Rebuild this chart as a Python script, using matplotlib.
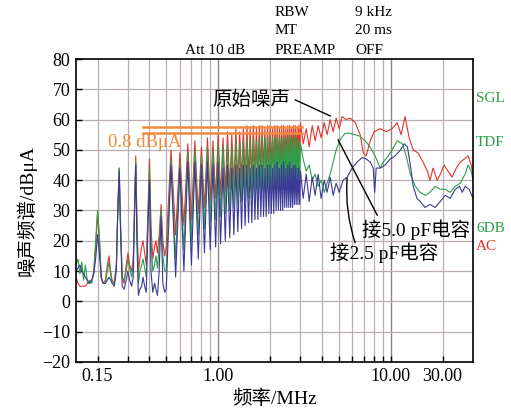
import matplotlib
matplotlib.use('Agg')
import matplotlib.pyplot as plt
from matplotlib.ticker import FixedLocator, NullFormatter

FONT = ['Liberation Serif', 'Noto Sans CJK SC']
plt.rcParams['font.family'] = FONT

# ---- data ----
# low-frequency part, 0.15 - 0.49 MHz
f_low = [0.150, 0.154, 0.158, 0.162, 0.166, 0.170, 0.175, 0.180, 0.185, 0.190,
         0.195, 0.200, 0.205, 0.210, 0.215, 0.222, 0.228, 0.233, 0.238, 0.243,
         0.250, 0.257, 0.262, 0.267, 0.272, 0.278, 0.285, 0.293, 0.300, 0.307,
         0.315, 0.322, 0.328, 0.333, 0.338, 0.345, 0.352, 0.360, 0.367, 0.375,
         0.383, 0.392, 0.400, 0.408, 0.418, 0.428, 0.436, 0.445, 0.455, 0.467,
         0.478, 0.490]
red_low = [8, 6, 5, 5, 5, 5, 6, 6, 7, 9,
           18, 29, 20, 8, 6, 7, 12, 15, 10, 7,
           6, 12, 30, 44, 25, 8, 6, 12, 16, 12,
           10, 14, 32, 48, 28, 10, 14, 18, 20, 16,
           12, 30, 47, 25, 14, 18, 20, 16, 22, 32,
           20, 15]
green_low = [12, 14, 9, 13, 7, 12, 6, 7, 6, 10,
             20, 30, 22, 8, 6, 6, 10, 13, 9, 6,
             6, 12, 30, 44, 25, 8, 7, 10, 14, 11,
             8, 12, 32, 46, 25, 6, 10, 12, 14, 11,
             8, 28, 44, 20, 10, 12, 15, 11, 18, 30,
             15, 10]
blue_low = [10, 11, 12, 10, 9, 8, 7, 6, 7, 9,
            14, 22, 16, 8, 6, 6, 7, 8, 7, 6,
            5, 10, 30, 43, 22, 5, 4, 7, 10, 7,
            5, 8, 30, 45, 20, 2, 4, 5, 8, 5,
            3, 25, 40, 10, 3, 6, 4, 2, 10, 28,
            6, 3]

# harmonic comb 0.5 - 3 MHz: valley before each peak, then the peak
f_valley = [0.500, 0.567, 0.633, 0.700, 0.767, 0.833, 0.900, 0.967, 1.033, 1.100,
            1.167, 1.233, 1.300, 1.367, 1.433, 1.500, 1.567, 1.633, 1.700, 1.767,
            1.833, 1.900, 1.967, 2.033, 2.100, 2.167, 2.233, 2.300, 2.367, 2.433,
            2.500, 2.567, 2.633, 2.700, 2.767, 2.833, 2.900, 2.967]
f_peak = [0.533, 0.600, 0.667, 0.733, 0.800, 0.867, 0.933, 1.000, 1.067, 1.133,
          1.200, 1.267, 1.333, 1.400, 1.467, 1.533, 1.600, 1.667, 1.733, 1.800,
          1.867, 1.933, 2.000, 2.067, 2.133, 2.200, 2.267, 2.333, 2.400, 2.467,
          2.533, 2.600, 2.667, 2.733, 2.800, 2.867, 2.933, 3.000]
red_peak = [50, 49, 52, 53, 51, 54, 53, 55, 54, 56, 55, 57, 56, 57, 58, 57, 58, 57, 58,
            58, 57, 58, 58, 57, 58, 58, 57, 58, 58, 57, 58, 58, 57, 58, 58, 57, 58, 59]
red_valley = [18, 22, 25, 27, 29, 31, 33, 34, 35, 36, 37, 38, 39, 40, 40, 41, 41, 42, 42,
              43, 43, 43, 44, 44, 44, 45, 45, 45, 45, 46, 46, 46, 46, 47, 47, 47, 47, 48]
green_peak = [47, 46, 49, 50, 48, 51, 50, 52, 51, 52, 51, 53, 52, 53, 54, 53, 54, 53, 54,
              55, 54, 54, 55, 54, 54, 55, 54, 54, 55, 54, 54, 55, 54, 54, 55, 54, 53, 52]
green_valley = [10, 14, 17, 20, 22, 24, 26, 27, 28, 29, 30, 31, 32, 33, 33, 34, 34, 35, 35,
                36, 36, 36, 37, 37, 37, 38, 38, 38, 38, 39, 39, 39, 39, 40, 40, 40, 40, 41]
blue_peak = [45, 44, 46, 46, 45, 46, 45, 46, 44, 45, 44, 45, 44, 45, 45, 44, 45, 44, 45,
             45, 44, 45, 45, 44, 45, 46, 44, 45, 46, 44, 45, 46, 44, 45, 45, 44, 44, 43]
blue_valley = [4, 8, 10, 12, 14, 16, 17, 18, 19, 20, 21, 22, 23, 24, 25, 26, 26, 27, 27,
               28, 28, 28, 29, 29, 29, 30, 30, 30, 30, 31, 31, 31, 31, 31, 32, 32, 32, 32]

# above 3 MHz
f_red_hi = [3.11, 3.24, 3.37, 3.51, 3.65, 3.80, 3.95, 4.12, 4.28, 4.46, 4.64, 4.83,
            5.03, 5.23, 5.52, 5.82, 6.23, 6.66, 6.93, 7.21, 7.61, 8.02, 8.69, 9.42,
            10.2, 10.9, 11.5, 12.1, 12.8, 13.5, 14.4, 15.4, 16.3, 16.9, 17.6, 18.6,
            19.4, 20.4, 21.5, 22.7, 24.0, 25.3, 26.7, 28.1, 29.3, 30.0]
red_hi = [52, 57, 51, 58, 53, 58, 54, 59, 55, 60, 56, 60.5,
          57, 61, 60, 60.5, 59, 55, 49, 48, 53, 56, 57, 56,
          57, 59, 55, 61, 54, 50, 49, 46, 43, 40, 44, 40,
          42, 45, 43, 41, 44, 46, 47, 48, 45, 42]
f_green_hi = [3.11, 3.24, 3.37, 3.51, 3.65, 3.80, 3.95, 4.12, 4.28, 4.46, 4.64, 4.83,
              5.10, 5.45, 5.82, 6.23, 6.65, 7.11, 7.60, 8.13, 8.69, 9.05, 9.67, 10.2,
              10.9, 11.7, 12.3, 13.0, 13.9, 14.8, 15.9, 16.9, 18.1, 19.4, 20.7, 22.1,
              23.7, 25.3, 27.0, 28.1, 29.3, 30.0]
green_hi = [47, 43, 45, 40, 42, 38, 40, 36, 39, 42, 46, 50,
            53.5, 55.5, 55.5, 55, 54.5, 53, 51, 48, 44, 46, 48, 50,
            53, 52, 48, 42, 38, 36, 35, 36, 38, 37, 37, 36,
            38, 39, 42, 45, 43, 40]
f_blue_hi = [3.11, 3.24, 3.37, 3.51, 3.65, 3.80, 3.95, 4.12, 4.28, 4.46, 4.64, 4.83,
             5.03, 5.30, 5.59, 5.98, 6.39, 6.84, 7.21, 7.61, 7.92, 8.08, 8.24, 8.69,
             9.29, 9.93, 10.6, 11.4, 12.0, 12.5, 13.0, 13.5, 14.2, 14.8, 15.8, 16.9,
             18.1, 19.4, 20.7, 22.1, 23.7, 25.0, 26.0, 27.0, 28.5, 30.0]
blue_hi = [34, 42, 33, 41, 35, 42, 34, 40, 36, 41, 35, 39,
           36, 40, 41, 44, 46, 47.5, 47, 46, 44, 36, 44, 44,
           45, 47, 48, 50, 52, 51, 45, 38, 34, 33, 31, 32,
           31, 33, 35, 34, 37, 38, 36, 38, 37, 34]

# limit lines
f_limit = [0.367, 3.07]
limit_levels = [57.7, 55.6]


def assemble(low, valley, peak, f_hi, hi):
    f, y = list(f_low), list(low)
    for fv, fp, v, p in zip(f_valley, f_peak, valley, peak):
        f += [fv, fp]
        y += [v, p]
    return f + list(f_hi), y + list(hi)


RED, GREEN, BLUE = '#e8312a', '#2e9e48', '#3b3a96'
ORANGE = '#f08a3c'

fig = plt.figure(figsize=(5.11, 4.13), dpi=100)
ax = fig.add_axes([76 / 511, 51 / 413, 397 / 511, 303 / 413])
ax.set_xscale('log')
ax.set_xlim(0.15, 30)
ax.set_ylim(-20, 80)

# grid
grid_f = [0.2, 0.3, 0.4, 0.5, 0.6, 0.7, 0.8, 0.9, 2, 3, 4, 5, 6, 7, 8, 9, 20]
for g in grid_f:
    ax.axvline(g, color='#b9afaf', lw=0.9, zorder=0)
for g in [1, 10]:
    ax.axvline(g, color='#8c8484', lw=1.0, zorder=0)
for g in range(-10, 80, 10):
    ax.axhline(g, color='#b9afaf', lw=0.9, zorder=0)

for low, valley, peak, f_hi, hi, c in [
        (red_low, red_valley, red_peak, f_red_hi, red_hi, RED),
        (green_low, green_valley, green_peak, f_green_hi, green_hi, GREEN),
        (blue_low, blue_valley, blue_peak, f_blue_hi, blue_hi, BLUE)]:
    f, y = assemble(low, valley, peak, f_hi, hi)
    ax.plot(f, y, color=c, lw=0.8, zorder=2)

for lvl in limit_levels:
    ax.plot(f_limit, [lvl, lvl], color=ORANGE, lw=1.8, zorder=3)

# ticks
ax.xaxis.set_major_locator(FixedLocator([0.2, 1, 10, 20]))
ax.set_xticklabels(['0.15', '1.00', '10.00', '30.00'])
ax.xaxis.set_minor_locator(FixedLocator(grid_f))
ax.xaxis.set_minor_formatter(NullFormatter())
ax.set_yticks(range(-20, 90, 10))
ax.set_yticklabels(['\u221220', '\u221210'] + [str(v) for v in range(0, 90, 10)])
ax.tick_params(which='both', direction='in', length=4, width=1, color='black',
               labelsize=13, pad=4)
for s in ax.spines.values():
    s.set_linewidth(1.2)
    s.set_color('black')

ax.set_xlabel('频率/MHz', fontsize=14, labelpad=4)
ax.set_ylabel('噪声频谱/dBμA', fontsize=14, labelpad=4)

# header block
hdr = dict(fontsize=11, va='center', ha='left')
fig.text(185 / 511, 1 - 50 / 413, 'Att 10 dB', **hdr)
fig.text(275 / 511, 1 - 13 / 413, 'RBW', **hdr)
fig.text(275 / 511, 1 - 31 / 413, 'MT', **hdr)
fig.text(275 / 511, 1 - 50 / 413, 'PREAMP', **hdr)
fig.text(355 / 511, 1 - 13 / 413, '9 kHz', **hdr)
fig.text(355 / 511, 1 - 31 / 413, '20 ms', **hdr)
fig.text(355 / 511, 1 - 50 / 413, 'OFF', **hdr)

# right side status labels
side = dict(fontsize=11, va='center', ha='left')
fig.text(476 / 511, 1 - 99 / 413, 'SGL', color=GREEN, **side)
fig.text(476 / 511, 1 - 142 / 413, 'TDF', color=GREEN, **side)
fig.text(476 / 511, 1 - 228 / 413, '6DB', color=GREEN, **side)
fig.text(476 / 511, 1 - 247 / 413, 'AC', color=RED, **side)

# annotations
line = dict(color='black', lw=1)
ax.text(0.23, 52.3, '0.8 dBμA', color=ORANGE, fontsize=13.5, va='center', ha='left')

ax.text(2.62, 66.5, '原始噪声', fontsize=14, va='center', ha='right')
ax.plot([2.80, 4.46], [66.5, 61.2], **line)

ax.text(6.84, 23.6, '接5.0 pF电容', fontsize=14, va='center', ha='left')
ax.plot([8.35, 4.96], [28.5, 53.3], **line)

ax.text(4.46, 16.0, '接2.5 pF电容', fontsize=14, va='center', ha='left')
ax.annotate('', xy=(5.59, 40.7), xytext=(6.23, 19.3),
            arrowprops=dict(arrowstyle='-', color='black', lw=1, shrinkA=0, shrinkB=0,
                            connectionstyle='arc3,rad=-0.1'))

fig.savefig('out.png', dpi=100)
